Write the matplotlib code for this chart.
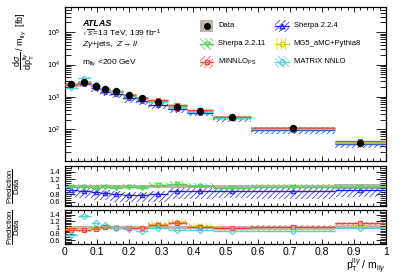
import matplotlib
matplotlib.use("Agg")
import matplotlib.pyplot as plt
import numpy as np
from matplotlib.patches import Rectangle
from matplotlib.ticker import MultipleLocator, LogLocator, NullFormatter

plt.rcParams.update({
    "font.family": "Liberation Sans",
    "mathtext.fontset": "custom",
    "mathtext.rm": "Liberation Sans",
    "mathtext.it": "Liberation Sans:italic",
    "mathtext.bf": "Liberation Sans:bold",
    "hatch.linewidth": 0.5,
    "axes.linewidth": 0.9,
})

# bins in pT(llg)/m(llg)
bin_edges = [0, 0.04, 0.08, 0.11, 0.14, 0.18, 0.22, 0.26, 0.32, 0.38, 0.46, 0.58, 0.84, 1.0]
data = [2500, 2900, 2200, 1700, 1500, 1150, 950, 720, 480, 370, 245, 110, 38]
data_rel_err = [0.04, 0.04, 0.04, 0.04, 0.04, 0.04, 0.04, 0.04, 0.04, 0.04, 0.04, 0.04, 0.06]

# prediction / data ratios
r_sherpa2211 = [0.98, 1.00, 0.97, 0.98, 0.97, 0.98, 0.97, 1.04, 1.07, 1.02, 0.97, 0.98, 1.00]
r_sherpa224 = [0.92, 0.89, 0.85, 0.83, 0.80, 0.78, 0.78, 0.80, 0.87, 0.88, 0.89, 0.87, 0.91]
r_mg5 = [0.96, 0.92, 0.97, 1.03, 1.01, 1.00, 0.98, 1.12, 1.18, 1.05, 0.95, 0.94, 1.07]
r_minnlo = [0.93, 0.91, 0.96, 1.01, 1.00, 0.98, 0.97, 1.09, 1.14, 1.03, 0.98, 1.02, 1.13]
r_matrix = [0.77, 1.36, 1.15, 1.08, 1.00, 0.95, 0.89, 0.97, 0.93, 0.93, 0.90, 0.90, 1.00]

# (down, up) relative band widths of each prediction
band_sherpa2211 = (0.04, 0.08)
band_sherpa224 = (0.20, 0.08)
band_mg5 = (0.03, 0.08)
band_minnlo = (0.05, 0.05)
band_matrix = (0.03, 0.03)

x_ticks = [0, 0.1, 0.2, 0.3, 0.4, 0.5, 0.6, 0.7, 0.8, 0.9, 1.0]
x_tick_labels = ["0", "0.1", "0.2", "0.3", "0.4", "0.5", "0.6", "0.7", "0.8", "0.9", "1"]
r_ticks = [0.6, 0.8, 1.0, 1.2, 1.4]
r_tick_labels = ["0.6", "0.8", "1", "1.2", "1.4"]

GRAY = "#bdb5a9"
preds = {
    "sherpa2211": dict(r=r_sherpa2211, band=band_sherpa2211, color="#4fd24f", hatch="\\\\\\\\\\\\", marker="v", label="Sherpa 2.2.11"),
    "sherpa224": dict(r=r_sherpa224, band=band_sherpa224, color="#2222ee", hatch="//////", marker="^", label="Sherpa 2.2.4"),
    "mg5": dict(r=r_mg5, band=band_mg5, color="#d2cf1e", hatch="||||", marker="o", label="MG5_aMC+Pythia8"),
    "minnlo": dict(r=r_minnlo, band=band_minnlo, color="#ff4040", hatch="//////", marker="s", label=r"MINNLO$_{\mathrm{PS}}$"),
    "matrix": dict(r=r_matrix, band=band_matrix, color="#55cfcf", hatch="\\\\\\\\\\\\", marker="D", label="MATRIX NNLO"),
}

edges = np.array(bin_edges)
centers = 0.5 * (edges[:-1] + edges[1:])
data = np.array(data, dtype=float)
derr = np.array(data_rel_err)


def step(v):
    v = np.asarray(v, dtype=float)
    return np.append(v, v[-1])


def draw_pred(ax, p, scale, msize=3.2):
    r = np.asarray(p["r"], dtype=float)
    lo = (r - p["band"][0]) * scale
    hi = (r + p["band"][1]) * scale
    ax.fill_between(edges, step(lo), step(hi), step="post", facecolor="none",
                    edgecolor=p["color"], hatch=p["hatch"], linewidth=0, zorder=2)
    ax.hlines(r * scale, edges[:-1], edges[1:], color=p["color"], lw=1.0, zorder=3)
    ax.plot(centers, r * scale, ls="none", marker=p["marker"], ms=msize, mfc="none",
            mec=p["color"], mew=0.8, zorder=4)


fig = plt.figure(figsize=(4.07, 2.76), dpi=100)
ax0 = fig.add_axes([0.1597, 0.4167, 0.789, 0.558])
ax1 = fig.add_axes([0.1597, 0.2536, 0.789, 0.145])
ax2 = fig.add_axes([0.1597, 0.1159, 0.789, 0.123])

# main panel
ax0.set_yscale("log")
ax0.fill_between(edges, step(data * (1 - derr)), step(data * (1 + derr)), step="post",
                 color=GRAY, lw=0, zorder=1)
for key in ["sherpa224", "sherpa2211", "mg5", "minnlo", "matrix"]:
    draw_pred(ax0, preds[key], data, msize=2.5)
ax0.plot(centers, data, "o", color="black", ms=4.3, zorder=6)
ax0.set_ylim(10.5, 6e5)

# ratio panels
for ax, keys in [(ax1, ["sherpa224", "sherpa2211"]), (ax2, ["mg5", "minnlo", "matrix"])]:
    ax.fill_between(edges, step(1 - derr), step(1 + derr), step="post", color=GRAY, lw=0, zorder=1)
    for key in keys:
        draw_pred(ax, preds[key], 1.0)
    ax.set_ylim(0.48, 1.55)
    ax.set_yticks(r_ticks)
    ax.set_yticklabels(r_tick_labels, fontsize=5.5)
    ax.yaxis.set_minor_locator(MultipleLocator(0.05))
    ax.set_ylabel(r"$\dfrac{\mathrm{Prediction}}{\mathrm{Data}}$", fontsize=5.5)
    ax.yaxis.set_label_coords(-0.135, 0.5)

for ax in (ax0, ax1, ax2):
    ax.set_xlim(0, 1)
    ax.set_xticks(x_ticks)
    ax.xaxis.set_minor_locator(MultipleLocator(0.02))
    ax.tick_params(which="both", direction="in", top=True, right=True, width=0.6)
    ax.tick_params(axis="x", which="major", length=3.5)
    ax.tick_params(axis="x", which="minor", length=2)
    ax.tick_params(axis="y", which="major", length=7.5)
    ax.tick_params(axis="y", which="minor", length=4)
for ax in (ax0, ax1):
    ax.set_xticklabels([])
ax2.set_xticklabels(x_tick_labels, fontsize=7.5)
ax2.tick_params(axis="x", pad=2)

ax0.yaxis.set_major_locator(LogLocator(base=10, numticks=10))
ax0.yaxis.set_minor_locator(LogLocator(base=10, subs=np.arange(2, 10), numticks=20))
ax0.yaxis.set_minor_formatter(NullFormatter())
ax0.tick_params(axis="y", labelsize=5.5)
ax0.set_ylabel(r"$\dfrac{\mathrm{d}\sigma}{\mathrm{dp}_{\mathrm{T}}^{\mathrm{ll}\gamma}}$ / m$_{\mathrm{ll}\gamma}$  [fb]",
               fontsize=6.5)
ax0.yaxis.set_label_coords(-0.088, 0.78)

fig.text(0.948, 0.035, r"p$_{\mathrm{T}}^{\mathrm{ll}\gamma}$ / m$_{\mathrm{ll}\gamma}$",
         fontsize=7.5, ha="right", va="center")

# labels
ax0.text(0.053, 0.895, "ATLAS", transform=ax0.transAxes, fontsize=6.5,
         fontweight="bold", fontstyle="italic", va="center")
ax0.text(0.053, 0.825, r"$\sqrt{s}$=13 TeV, 139 fb$^{-1}$", transform=ax0.transAxes,
         fontsize=6, va="center")
ax0.text(0.053, 0.755, r"$Z\gamma$+jets,  $Z\rightarrow ll$", transform=ax0.transAxes,
         fontsize=6, va="center")
ax0.text(0.053, 0.64, r"m$_{\mathrm{ll}\gamma}$ <200 GeV", transform=ax0.transAxes,
         fontsize=6, va="center")

# legend, drawn by hand
bw, bh = 0.042, 0.075
entries = [
    (0.42, 0.877, None, "Data"),
    (0.655, 0.877, "sherpa224", None),
    (0.42, 0.76, "sherpa2211", None),
    (0.655, 0.76, "mg5", None),
    (0.42, 0.643, "minnlo", None),
    (0.655, 0.643, "matrix", None),
]
for x, y, key, lab in entries:
    if key is None:
        ax0.add_patch(Rectangle((x, y - bh / 2), bw, bh, transform=ax0.transAxes,
                                facecolor=GRAY, edgecolor="none", zorder=5))
        ax0.plot([x + bw / 2], [y], "o", color="black", ms=4, transform=ax0.transAxes, zorder=6)
    else:
        p = preds[key]
        lab = p["label"]
        ax0.add_patch(Rectangle((x, y - bh / 2), bw, bh, transform=ax0.transAxes,
                                facecolor="none", edgecolor=p["color"], hatch=p["hatch"],
                                lw=0, zorder=5))
        ax0.plot([x, x + bw], [y, y], color=p["color"], lw=0.9, transform=ax0.transAxes, zorder=6)
        ax0.plot([x + bw / 2], [y], p["marker"], mfc="none", mec=p["color"], ms=3.5,
                 mew=0.9, transform=ax0.transAxes, zorder=6)
    ax0.text(x + bw + 0.015, y, lab, transform=ax0.transAxes, fontsize=5.5, va="center")

fig.savefig("out.png", dpi=100)
